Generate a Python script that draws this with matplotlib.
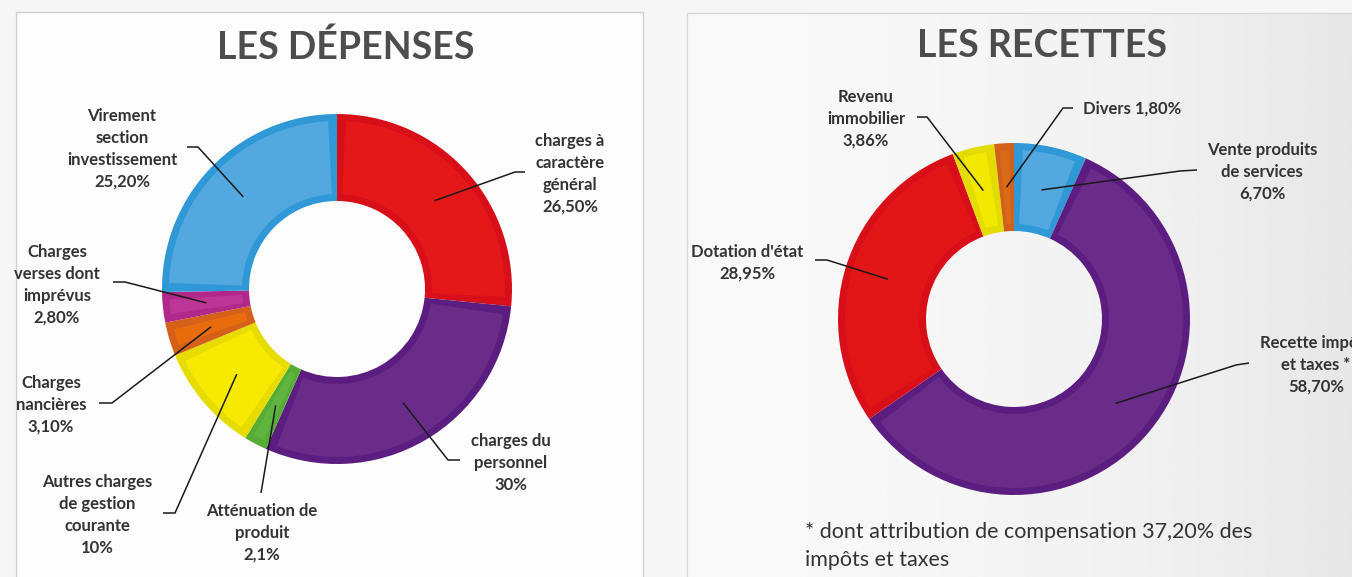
import numpy as np
import matplotlib
matplotlib.use("Agg")
import matplotlib.pyplot as plt
from matplotlib.patches import Wedge, Rectangle

W, H = 1352, 577

# --- data ---
dep_labels = ["charges à\ncaractère\ngénéral\n26,50%",
              "charges du\npersonnel\n30%",
              "Atténuation de\nproduit\n2,1%",
              "Autres charges\nde gestion\ncourante\n10%",
              "Charges\nnancières\n3,10%",
              "Charges\nverses dont\nimprévus\n2,80%",
              "Virement\nsection\ninvestissement\n25,20%"]
dep_values = [26.5, 30, 2.1, 10, 3.1, 2.8, 25.2]

rec_labels = ["Vente produits\nde services\n6,70%",
              "Recette impôts\net taxes *\n58,70%",
              "Dotation d'état\n28,95%",
              "Revenu\nimmobilier\n3,86%",
              "Divers 1,80%"]
rec_values = [6.7, 58.7, 28.95, 3.86, 1.8]

note = "* dont attribution de compensation 37,20% des\nimpôts et taxes"

# colours: (edge band, inner fill)
dep_colors = [("#d80f18", "#e41818"), ("#5b1e80", "#6a2c89"), ("#55ad36", "#5fb53f"),
              ("#e6dc00", "#f7e900"), ("#d4601a", "#e86c0c"), ("#b0288a", "#bd3595"),
              ("#2f98d6", "#52a8df")]
rec_colors = [("#2f98d6", "#52a8df"), ("#5b1e80", "#6a2c89"), ("#d80f18", "#e21616"),
              ("#e2dc00", "#f2e800"), ("#d0601a", "#d86a18")]

# label layout (image pixel coords): text x, y, ha, leader start, knee
dep_layout = [(570, 174, "center", (525, 172), (515, 172)),
              (511, 463, "center", (460, 460), (448, 460)),
              (262, 533, "center", (261, 493), (261, 493)),
              (97, 515, "center", (163, 513), (175, 513)),
              (51, 405, "center", (99, 403), (112, 403)),
              (57, 285, "center", (113, 282), (125, 282)),
              (122, 149, "center", (187, 147), (198, 147))]
rec_layout = [(1262, 172, "center", (1197, 170), (1180, 171)),
              (1316, 365, "center", (1249, 363), (1236, 365)),
              (747, 263, "center", (815, 260), (827, 260)),
              (866, 119, "center", (917, 117), (927, 117)),
              (1083, 109, "left", (1073, 108), (1063, 108))]

plt.rcParams['font.family'] = ['Lato', 'DejaVu Sans']
TXT = "#333333"

fig = plt.figure(figsize=(W / 100, H / 100), dpi=100, facecolor="#f6f6f6")
ax = fig.add_axes([0, 0, 1, 1])


def Y(y):
    return H - y


# panels
ax.add_patch(Rectangle((16, -5), 643 - 16, Y(12) + 5, facecolor="#fdfdfd",
                       edgecolor="#cfcfcf", lw=1, zorder=0))
grad = np.linspace(0, 1, 300)
shade = 0.975 - 0.07 * grad ** 2
ax.imshow(np.tile(shade, (2, 1)), cmap="gray", vmin=0, vmax=1, aspect="auto",
          extent=(687, W + 2, -5, Y(13)), zorder=0)
ax.plot([687, 687, W], [-5, Y(13), Y(13)], color="#d8d8d8", lw=1, zorder=1)

ax.text(346, Y(47), "LES DÉPENSES", ha="center", va="center", fontsize=27,
        fontweight="bold", color="#4d4d4d")
ax.text(1042, Y(46), "LES RECETTES", ha="center", va="center", fontsize=27,
        fontweight="bold", color="#4d4d4d")


def donut(values, colors, labels, layout, cx, cy, r_out, r_in):
    wedges, _ = ax.pie(values, colors=[c[0] for c in colors], startangle=90,
                       counterclock=False, radius=r_out, center=(cx, Y(cy)),
                       wedgeprops=dict(width=r_out - r_in, linewidth=0))
    band = 7
    for w, (dark, light), lab, (tx, ty, ha, p0, p1) in zip(wedges, colors, labels, layout):
        w.set_zorder(2)
        rm = w.r - w.width / 2
        span = w.theta2 - w.theta1
        d = min(np.degrees(band / rm), span * 0.25)
        ax.add_patch(Wedge(w.center, w.r - band, w.theta1 + d, w.theta2 - d,
                           width=w.width - 2 * band, facecolor=light, lw=0, zorder=3))
        mid = np.radians((w.theta1 + w.theta2) / 2)
        ax_, ay_ = w.center[0] + rm * np.cos(mid), w.center[1] + rm * np.sin(mid)
        ax.plot([p0[0], p1[0], ax_], [Y(p0[1]), Y(p1[1]), ay_], color="#1a1a1a",
                lw=1.1, zorder=5, solid_capstyle="butt")
        ax.text(tx, Y(ty), lab, ha=ha, va="center", multialignment="center",
                fontsize=12, fontweight="bold", color=TXT, linespacing=1.45, zorder=6)


donut(dep_values, dep_colors, dep_labels, dep_layout, 337, 289, 175, 88)
donut(rec_values, rec_colors, rec_labels, rec_layout, 1014, 319, 176, 88)

ax.text(805, Y(546), note, ha="left", va="center", fontsize=15.5, color=TXT,
        linespacing=1.55)

ax.set_xlim(0, W)
ax.set_ylim(0, H)
ax.set_aspect("auto")
ax.axis("off")

fig.savefig("out.png", dpi=100, facecolor=fig.get_facecolor())
